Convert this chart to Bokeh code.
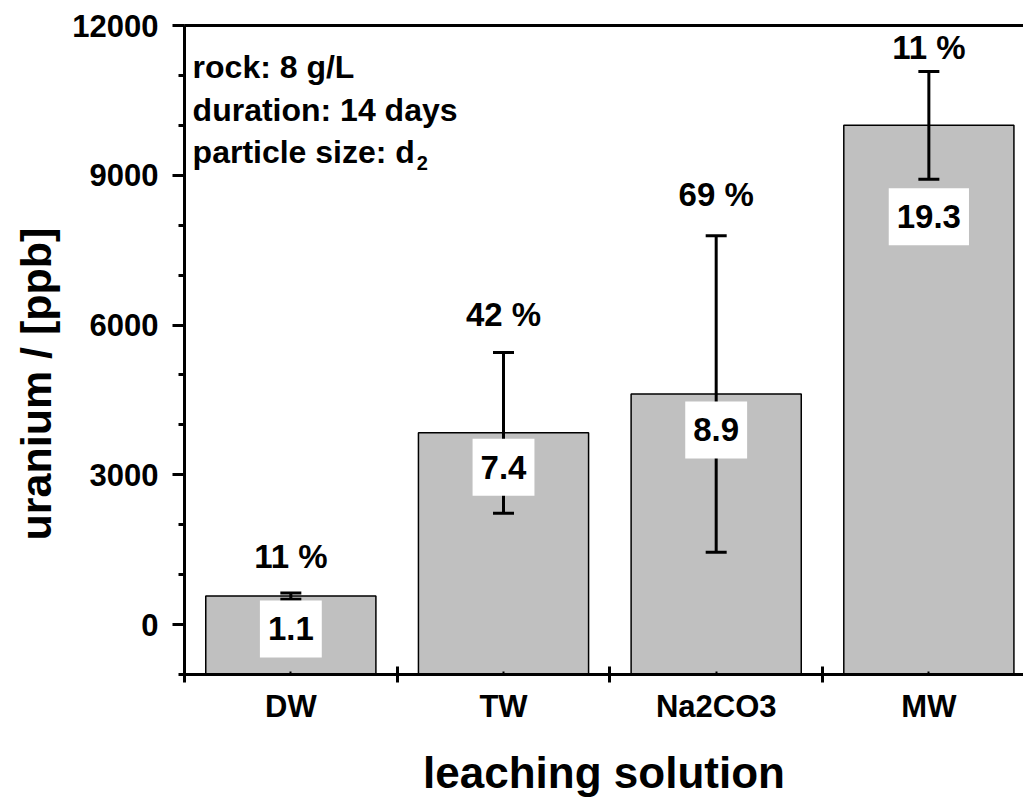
from bokeh.plotting import figure
from bokeh.models import (ColumnDataSource, Whisker, TeeHead, Label, LinearAxis,
                          FixedTicker, SingleIntervalTicker, Range1d, Title)
from bokeh.embed import file_html
from bokeh.resources import INLINE

# ---- data ----
categories = ["DW", "TW", "Na2CO3", "MW"]
uranium = [570, 3840, 4620, 10000]
error = [63, 1610, 3170, 1080]
percent_labels = ["11 %", "42 %", "69 %", "11 %"]
percent_y = [1366, 6220, 8606, 11560]
ratio_labels = ["1.1", "7.4", "8.9", "19.3"]
ratio_y = [-88, 3153, 3900, 8170]
info_lines = ["rock: 8 g/L", "duration: 14 days", "particle size: d"]
info_y = [11160, 10300, 9460]
y_start, y_end = -1000, 12000
x_start, x_end = 0.5, 4.445

FONT = "Liberation Sans"

xs = [i + 1 for i in range(len(categories))]
src = ColumnDataSource(dict(
    x=xs, top=uranium,
    upper=[u + e for u, e in zip(uranium, error)],
    lower=[u - e for u, e in zip(uranium, error)],
))

p = figure(frame_width=839, frame_height=649, output_backend="svg", toolbar_location=None,
           x_range=Range1d(x_start, x_end), y_range=Range1d(y_start, y_end),
           min_border_left=184, min_border_right=0, min_border_top=25,
           min_border_bottom=120, x_axis_type=None, y_axis_type=None)
p.outline_line_color = None
p.background_fill_color = "white"
p.border_fill_color = "white"

# bars
p.vbar(x="x", top="top", bottom=y_start, width=0.8, source=src,
       fill_color="#c0c0c0", line_color="black", line_width=1.5)

# error bars
w = Whisker(base="x", upper="upper", lower="lower", source=src,
            line_color="black", line_width=3, level="annotation")
w.upper_head = TeeHead(size=21, line_color="black", line_width=3)
w.lower_head = TeeHead(size=21, line_color="black", line_width=3)
p.add_layout(w)

# y axis
yax = LinearAxis(ticker=SingleIntervalTicker(interval=3000, num_minor_ticks=3))
yax.axis_line_width = 3
yax.major_tick_line_width = 3
yax.minor_tick_line_width = 3
yax.major_tick_in = 0
yax.major_tick_out = 12
yax.minor_tick_in = 0
yax.minor_tick_out = 6
yax.major_label_text_font = FONT
yax.major_label_text_font_style = "bold"
yax.major_label_text_font_size = "31px"
yax.major_label_text_color = "black"
yax.major_label_standoff = 14
p.add_layout(yax, "left")

# y axis title
p.add_layout(Title(text="uranium / [ppb]", align="left", offset=134,
                   text_font=FONT, text_font_style="bold", text_font_size="43px",
                   text_color="black", standoff=19), "left")

# x axis
xax = LinearAxis(ticker=FixedTicker(ticks=xs, minor_ticks=[x - 0.5 for x in xs]))
xax.major_label_overrides = {x: c for x, c in zip(xs, categories)}
xax.axis_line_width = 3
xax.major_tick_line_width = 2
xax.major_tick_in = 3
xax.major_tick_out = 0
xax.minor_tick_line_width = 3
xax.minor_tick_in = 8
xax.minor_tick_out = 8
xax.major_label_text_font = FONT
xax.major_label_text_font_style = "bold"
xax.major_label_text_font_size = "31px"
xax.major_label_text_color = "black"
xax.major_label_standoff = 6
xax.axis_label = "leaching solution"
xax.axis_label_text_font = FONT
xax.axis_label_text_font_style = "bold"
xax.axis_label_text_font_size = "44px"
xax.axis_label_text_color = "black"
xax.axis_label_standoff = 21
p.add_layout(xax, "below")

# top frame line
top = LinearAxis(ticker=FixedTicker(ticks=[]))
top.axis_line_width = 3
top.major_tick_line_color = None
top.minor_tick_line_color = None
top.major_label_text_font_size = "0px"
p.add_layout(top, "above")

# percent labels
for x, y, t in zip(xs, percent_y, percent_labels):
    p.add_layout(Label(x=x, y=y, text=t, text_align="center", text_baseline="middle",
                       text_font=FONT, text_font_style="bold", text_font_size="33px",
                       text_color="black"))

# ratio labels in white boxes
for x, y, t in zip(xs, ratio_y, ratio_labels):
    p.add_layout(Label(x=x, y=y, text=t, text_align="center", text_baseline="middle",
                       text_font=FONT, text_font_style="bold", text_font_size="33px",
                       text_color="black", background_fill_color="white",
                       padding=dict(left=8, right=8, top=17, bottom=17)))

# info text
for y, t in zip(info_y, info_lines):
    p.add_layout(Label(x=0.538, y=y, text=t, text_align="left", text_baseline="alphabetic",
                       text_font=FONT, text_font_style="bold", text_font_size="32px",
                       text_color="black"))
p.add_layout(Label(x=1.592, y=9240, text="2", text_align="left", text_baseline="alphabetic",
                   text_font=FONT, text_font_style="bold", text_font_size="20px",
                   text_color="black"))

open("out.html", "w").write(file_html(p, INLINE))
